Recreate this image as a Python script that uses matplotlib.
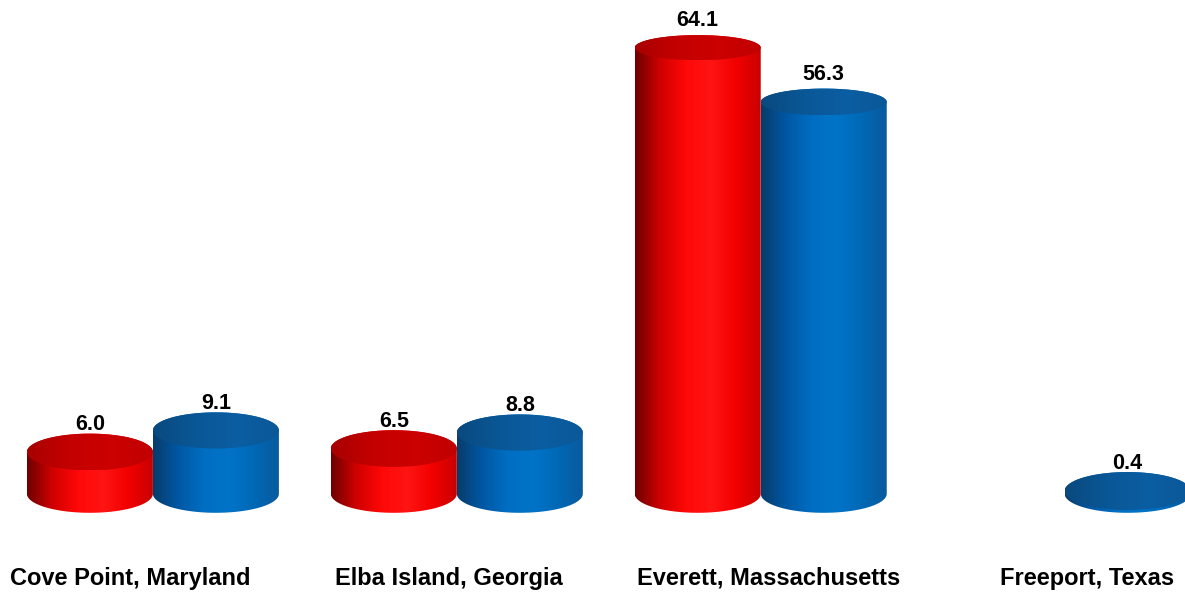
import numpy as np
import matplotlib
matplotlib.use('Agg')
import matplotlib.pyplot as plt
from matplotlib.path import Path
from matplotlib.patches import PathPatch
from matplotlib.colors import LinearSegmentedColormap

# data
categories = ['Cove Point, Maryland', 'Elba Island, Georgia',
              'Everett, Massachusetts', 'Freeport, Texas']
red_values = [6.0, 6.5, 64.1, None]
blue_values = [9.1, 8.8, 56.3, 0.4]

bar_w = 0.4146
px_per_unit = 6.96

red_body = LinearSegmentedColormap.from_list(
    'rb', ['#6e0000', '#d00000', '#ff0808', '#ff1414', '#f20000', '#c80000'])
red_top = LinearSegmentedColormap.from_list('rt', ['#a80000', '#c40000', '#cc0000', '#c00000'])
blue_body = LinearSegmentedColormap.from_list(
    'bb', ['#083c6a', '#0058a4', '#006ec2', '#0074c8', '#0068b6', '#0a5a9c'])
blue_top = LinearSegmentedColormap.from_list('bt', ['#09497e', '#0a5796', '#0b5ea2', '#0a5898'])

fig = plt.figure(figsize=(11.85, 5.92), dpi=100)
ax = fig.add_axes([0, 0, 1, 1])
grad = np.linspace(0, 1, 256).reshape(1, -1)


def ry(v):
    # vertical radius of the ellipse in data units (flatter near the top)
    return (19 - 0.1 * v) / px_per_unit


def cylinder(cx, h, body_cmap, top_cmap, z):
    w = bar_w / 2
    t = np.linspace(0, np.pi, 80)
    rb, rt = ry(0), ry(h)
    xb = cx - w * np.cos(t)
    yb = -rb * np.sin(t)
    xt = cx + w * np.cos(t)
    yt = h + rt * np.sin(t)
    verts = np.column_stack([np.r_[xb, xt, xb[:1]], np.r_[yb, yt, yb[:1]]])
    codes = [Path.MOVETO] + [Path.LINETO] * (len(verts) - 2) + [Path.CLOSEPOLY]
    body = PathPatch(Path(verts, codes), fc='none', ec='none')
    ax.add_patch(body)
    im = ax.imshow(grad, cmap=body_cmap, extent=[cx - w, cx + w, -rb, h + rt],
                   aspect='auto', origin='lower', zorder=z, interpolation='bilinear')
    im.set_clip_path(body)

    tt = np.linspace(0, 2 * np.pi, 120)
    tv = np.column_stack([cx + w * np.cos(tt), h + rt * np.sin(tt)])
    top = PathPatch(Path(tv, closed=True), fc='none', ec='none')
    ax.add_patch(top)
    im2 = ax.imshow(grad, cmap=top_cmap, extent=[cx - w, cx + w, h - rt, h + rt],
                    aspect='auto', origin='lower', zorder=z + 1, interpolation='bilinear')
    im2.set_clip_path(top)


z = 2
for i in range(len(categories)):
    for val, off, bc, tc in [(red_values[i], -bar_w / 2, red_body, red_top),
                             (blue_values[i], bar_w / 2, blue_body, blue_top)]:
        if val is None:
            continue
        cx = i + off
        cylinder(cx, val, bc, tc, z)
        ax.annotate(f'{val:.1f}', (cx, val), xytext=(0, 19.5), textcoords='offset points',
                    ha='center', va='center', fontsize=15.5, fontweight='bold',
                    family='Liberation Sans', zorder=50)
        z += 2

for i, cat in enumerate(categories):
    ax.text(-0.075 + 1.05 * i, -12.1, cat, ha='center', va='center',
            fontsize=17, fontweight='bold', family='Liberation Sans')

ax.set_xlim(-0.5031, 3.396)
ax.set_ylim(-14.11, 70.95)
ax.axis('off')

fig.savefig('out.png', dpi=100)
